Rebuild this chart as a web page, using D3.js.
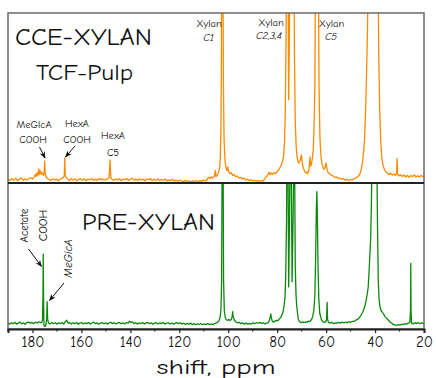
<!DOCTYPE html>
<html><head><meta charset="utf-8">
<script src="https://cdn.jsdelivr.net/npm/d3@7"></script>
<style>
html,body{margin:0;padding:0;background:#fff;}
svg{display:block;}
text{font-family:'Comic Sans MS','Comic Neue','Open Sans',sans-serif;fill:#111;}
</style></head>
<body><svg id="chart" width="436" height="378"></svg>
<script>
// ---- data ----
const majorTicks = [180,160,140,120,100,80,60,40,20];
const minorTicks = [190,170,150,130,110,90,70,50,30];
const xTitle = "shift, ppm";
const topTitle = ["CCE-XYLAN","TCF-Pulp"];
const bottomTitle = "PRE-XYLAN";

// CCE-XYLAN, TCF-Pulp spectrum: [ppm, intensity]
const topSpectrum = [[190.0,0.4],[189.2,-0.5],[188.5,0.6],[187.7,-0.3],[186.9,0.9],[186.1,-0.6],[185.4,0.3],[184.6,1.0],[183.8,-0.4],[183.0,0.5],[182.3,-0.3],[181.5,0.7],[180.7,1.1],[180.0,0.4],[179.3,1.5],[178.8,3.2],[178.5,1.8],[178.1,4.2],[177.8,2.4],[177.4,6.5],[177.1,3.0],[176.7,5.2],[176.3,3.2],[175.9,4.0],[175.5,2.6],[175.2,4.8],[175.0,11.2],[174.8,4.0],[174.4,1.6],[173.9,0.7],[173.2,0.1],[172.5,-0.6],[171.8,0.5],[171.0,-0.2],[170.3,0.4],[169.5,-0.6],[168.8,0.3],[168.1,0.6],[167.4,1.2],[167.0,2.2],[166.8,13.0],[166.6,2.8],[166.2,1.2],[165.6,0.3],[164.9,-0.5],[164.1,0.6],[163.4,-0.2],[162.6,0.4],[161.9,-0.7],[161.1,0.2],[160.4,0.7],[159.6,-0.3],[158.9,0.5],[158.1,-0.6],[157.4,0.3],[156.6,-0.1],[155.9,0.7],[155.1,-0.4],[154.4,0.2],[153.6,-0.4],[152.9,0.6],[152.1,0.0],[151.4,0.5],[150.6,-0.3],[149.9,0.4],[149.2,0.3],[148.7,1.3],[148.3,11.8],[148.0,1.4],[147.5,0.2],[146.8,-0.5],[146.0,0.4],[145.3,-0.2],[144.5,0.6],[143.8,-0.6],[143.0,0.3],[142.3,-0.1],[141.5,0.7],[140.8,-0.4],[140.0,0.2],[139.3,0.9],[138.5,-0.3],[137.8,0.4],[137.0,-0.5],[136.3,0.5],[135.5,-0.2],[134.8,0.3],[134.0,-0.7],[133.3,0.4],[132.5,0.0],[131.8,0.6],[131.0,-0.5],[130.3,0.2],[129.5,-0.3],[128.8,0.5],[128.0,-0.6],[127.3,0.1],[126.5,-0.4],[125.8,0.4],[125.0,-0.8],[124.3,-0.1],[123.5,-0.6],[122.8,0.2],[122.0,-0.9],[121.3,-0.3],[120.5,-1.0],[119.8,-0.2],[119.0,-0.8],[118.3,-1.3],[117.5,-0.4],[116.8,-1.1],[116.0,-0.6],[115.3,-1.4],[114.5,-0.7],[113.8,-1.2],[113.0,-0.5],[112.3,-1.3],[111.5,-0.6],[110.8,-1.0],[110.0,-0.3],[109.3,-0.8],[108.6,0.2],[108.0,1.5],[107.5,0.6],[107.0,1.8],[106.5,0.9],[106.0,1.6],[105.6,2.2],[105.3,5.6],[105.0,1.8],[104.5,2.6],[104.0,4.2],[103.6,6.5],[103.3,12],[103.0,28],[102.8,65],[102.65,140],[102.2,140],[102.0,62],[101.7,24],[101.3,11],[100.9,7.0],[100.5,5.5],[100.2,7.6],[99.8,4.8],[99.3,3.6],[98.8,4.2],[98.2,2.6],[97.6,3.0],[97.0,1.8],[96.3,2.2],[95.6,1.0],[94.9,1.4],[94.2,0.4],[93.5,0.9],[92.8,-0.2],[92.1,0.3],[91.4,-0.6],[90.7,0.0],[90.0,-0.8],[89.3,-0.3],[88.6,-1.0],[87.9,-0.4],[87.2,-1.1],[86.5,-0.6],[85.8,-0.9],[85.2,0.3],[84.6,1.6],[84.0,2.4],[83.4,4.4],[82.9,3.0],[82.4,4.0],[81.8,3.2],[81.2,4.2],[80.6,3.6],[80.0,5.0],[79.4,5.6],[78.9,7.2],[78.3,9.0],[77.8,11.0],[77.4,14],[77.0,22],[76.7,40],[76.4,80],[76.1,140],[75.6,140],[75.3,48],[75.0,90],[74.75,140],[73.2,140],[72.9,70],[72.6,34],[72.2,19],[71.8,13],[71.3,10],[70.7,11],[70.1,14.8],[69.7,9.5],[69.3,7.0],[68.8,5.2],[68.4,4.0],[68.0,4.6],[67.5,3.6],[67.0,6.0],[66.6,13.6],[66.3,8.0],[66.0,9.5],[65.7,12],[65.3,17],[65.0,28],[64.6,55],[64.3,140],[63.2,140],[62.9,55],[62.5,24],[62.1,14],[61.6,9],[61.0,6.2],[60.5,7.0],[60.0,10.0],[59.6,6.0],[59.1,4.0],[58.5,3.6],[57.8,2.6],[57.1,2.2],[56.4,1.3],[55.7,1.7],[55.0,0.6],[54.3,1.0],[53.6,0.2],[52.9,0.7],[52.2,-0.3],[51.5,0.3],[50.8,-0.5],[50.1,0.2],[49.4,-0.2],[48.7,0.5],[48.0,0.9],[47.4,1.4],[46.8,2.2],[46.2,3.4],[45.7,5.5],[45.2,9.5],[44.8,15],[44.3,24],[43.9,40],[43.5,62],[43.1,90],[42.7,140],[38.9,140],[38.5,75],[38.1,42],[37.7,24],[37.3,14],[36.8,9.0],[36.2,6.2],[35.6,4.6],[35.0,4.0],[34.3,3.2],[33.6,3.8],[32.9,2.8],[32.2,3.4],[31.6,2.6],[31.2,3.5],[31.0,12.8],[30.8,3.6],[30.3,2.2],[29.6,3.0],[28.9,1.9],[28.2,2.8],[27.5,1.6],[26.8,2.6],[26.1,1.4],[25.4,2.5],[24.7,1.8],[24.0,2.9],[23.3,1.6],[22.6,2.4],[21.9,1.5],[21.2,2.6],[20.5,1.7],[20.0,2.2]];

// PRE-XYLAN spectrum: [ppm, intensity]
const bottomSpectrum = [[190.0,0.3],[189.3,-0.6],[188.6,0.5],[187.9,-0.3],[187.2,0.8],[186.5,-0.5],[185.8,0.2],[185.1,0.9],[184.4,-0.4],[183.7,0.4],[183.0,-0.6],[182.3,0.6],[181.6,1.0],[180.9,0.1],[180.2,0.7],[179.5,-0.2],[178.8,0.9],[178.1,0.3],[177.4,1.2],[176.8,0.6],[176.2,0.8],[175.9,2.5],[175.7,20],[175.6,49.4],[175.45,15],[175.3,-1.5],[175.0,-2.2],[174.6,-1.8],[174.2,2.5],[174.0,15.5],[173.8,3.0],[173.4,0.3],[172.8,-0.4],[172.1,0.6],[171.4,-0.3],[170.7,0.5],[170.0,-0.5],[169.3,0.3],[168.6,-0.2],[167.9,0.7],[167.2,-0.4],[166.5,1.4],[166.0,2.2],[165.5,0.2],[164.8,0.6],[164.1,-0.5],[163.4,0.4],[162.7,-0.3],[162.0,0.6],[161.3,-0.6],[160.6,0.2],[159.9,0.5],[159.2,-0.4],[158.5,0.3],[157.8,-0.2],[157.1,0.6],[156.4,-0.5],[155.7,0.3],[155.0,0.9],[154.3,-0.2],[153.6,0.4],[152.9,-0.6],[152.2,0.2],[151.5,0.6],[150.8,-0.3],[150.1,0.4],[149.4,-0.5],[148.7,0.3],[148.0,0.8],[147.3,-0.2],[146.6,0.5],[145.9,-0.4],[145.2,0.2],[144.5,0.7],[143.8,-0.3],[143.1,0.4],[142.4,-0.4],[141.7,0.5],[141.0,0.1],[140.3,1.6],[139.8,0.6],[139.2,1.1],[138.5,-0.2],[137.8,0.5],[137.1,-0.5],[136.4,0.3],[135.7,-0.1],[135.0,0.6],[134.3,-0.4],[133.6,0.2],[132.9,0.7],[132.2,-0.3],[131.5,0.4],[130.8,-0.6],[130.1,0.2],[129.4,0.5],[128.7,-0.4],[128.0,0.3],[127.3,-0.2],[126.6,0.6],[125.9,-0.5],[125.2,0.1],[124.5,0.5],[123.8,-0.4],[123.1,0.3],[122.4,-0.6],[121.7,0.2],[121.0,0.6],[120.3,-0.3],[119.6,0.4],[118.9,-0.5],[118.2,0.1],[117.5,-0.8],[116.8,0.0],[116.1,-0.6],[115.4,0.2],[114.7,-0.9],[114.0,-0.2],[113.3,-1.0],[112.6,-0.3],[111.9,-0.8],[111.2,-0.1],[110.5,-1.0],[109.8,-0.4],[109.1,-0.9],[108.4,-0.2],[107.7,-0.8],[107.0,-0.3],[106.3,-0.9],[105.6,-0.2],[104.9,0.3],[104.3,0.9],[103.8,1.8],[103.4,3.5],[103.0,9],[102.7,30],[102.5,120],[102.1,120],[101.9,30],[101.6,9],[101.2,4.0],[100.8,2.6],[100.3,2.2],[99.8,2.8],[99.3,2.0],[98.7,3.0],[98.4,5.0],[98.2,8.3],[97.9,4.2],[97.4,2.0],[96.8,1.0],[96.2,0.4],[95.5,0.8],[94.8,-0.2],[94.1,0.3],[93.4,-0.5],[92.7,0.2],[92.0,-0.6],[91.3,-0.2],[90.6,-0.5],[89.9,0.4],[89.2,-0.3],[88.5,0.5],[87.8,0.1],[87.1,0.7],[86.4,0.0],[85.7,0.4],[85.0,-0.4],[84.3,0.2],[83.7,0.5],[83.2,2.0],[82.8,5.0],[82.6,6.7],[82.4,4.0],[82.0,1.6],[81.5,0.8],[80.9,1.6],[80.3,2.2],[79.7,1.8],[79.2,3.2],[78.6,4.0],[78.1,6.0],[77.6,8.5],[77.2,12],[76.8,19],[76.5,35],[76.2,70],[76.0,120],[75.6,120],[75.3,26],[75.0,70],[74.7,120],[74.3,120],[73.9,29.7],[73.5,75],[73.2,120],[72.9,120],[72.6,40],[72.3,20],[72.0,12],[71.6,6],[71.3,2.4],[70.8,1.2],[70.2,0.5],[69.6,1.1],[69.0,0.6],[68.4,1.0],[67.8,0.8],[67.2,1.6],[66.6,1.2],[66.0,2.6],[65.5,4.8],[65.0,9.5],[64.6,20],[64.3,45],[64.0,80],[63.8,93.8],[63.6,80],[63.3,40],[63.0,18],[62.6,7.2],[62.0,3.0],[61.4,1.2],[60.8,0.6],[60.2,1.0],[59.8,3.0],[59.6,15.0],[59.4,2.6],[59.0,0.6],[58.4,0.2],[57.7,0.8],[57.0,-0.3],[56.3,0.4],[55.6,0.1],[54.9,0.8],[54.2,0.2],[53.5,0.9],[52.8,0.3],[52.1,1.0],[51.4,0.4],[50.7,1.2],[50.0,0.8],[49.3,1.5],[48.6,1.4],[47.9,2.3],[47.3,2.6],[46.7,3.6],[46.1,4.8],[45.5,6.5],[44.9,8.5],[44.2,12],[43.6,17],[43.1,22],[42.8,26],[42.4,38],[42.1,50],[41.8,60],[41.5,85],[41.2,120],[39.3,120],[39.0,70],[38.7,31],[38.4,18],[38.0,12],[37.5,9.0],[37.0,7.8],[36.6,7.0],[36.0,5.0],[35.3,3.6],[34.6,2.4],[33.9,1.0],[33.2,0.3],[32.6,-0.8],[31.9,-1.0],[31.2,-1.5],[30.5,-0.8],[29.8,-1.2],[29.1,-0.6],[28.4,-0.9],[27.7,-0.2],[27.0,-0.5],[26.4,0.3],[25.8,0.6],[25.5,10],[25.4,42.8],[25.3,10],[25.1,0.2],[24.5,-0.4],[23.8,0.5],[23.1,-0.2],[22.4,0.6],[21.7,-0.3],[21.0,0.4],[20.3,-0.2],[20.0,0.3]];

// ---- layout ----
const L = 8, R = 424, T = 13, M = 183, B = 329;
const svg = d3.select("#chart");
const x = d3.scaleLinear().domain([190,20]).range([L,R]);
const yTop = d3.scaleLinear().domain([-2,100]).range([M,T]);
const yBot = d3.scaleLinear().domain([-4,100]).range([B,M]);

const defs = svg.append("defs");
defs.append("clipPath").attr("id","clipTop").append("rect")
  .attr("x",L).attr("y",T).attr("width",R-L).attr("height",M-T);
defs.append("clipPath").attr("id","clipBot").append("rect")
  .attr("x",L).attr("y",M).attr("width",R-L).attr("height",B-M);
defs.append("marker").attr("id","arr").attr("viewBox","0 0 10 10")
  .attr("refX",9).attr("refY",5).attr("markerWidth",7).attr("markerHeight",7)
  .attr("markerUnits","userSpaceOnUse").attr("orient","auto")
  .append("path").attr("d","M0,1 L10,5 L0,9 L3,5 Z").attr("fill","#111");

const lineTop = d3.line().x(d=>x(d[0])).y(d=>yTop(d[1]));
const lineBot = d3.line().x(d=>x(d[0])).y(d=>yBot(d[1]));

svg.append("path").datum(topSpectrum).attr("clip-path","url(#clipTop)")
  .attr("d",lineTop).attr("fill","none").attr("stroke","#ff8a00")
  .attr("stroke-width",1.3).attr("stroke-linejoin","round");
svg.append("path").datum(bottomSpectrum).attr("clip-path","url(#clipBot)")
  .attr("d",lineBot).attr("fill","none").attr("stroke","#0a8a0a")
  .attr("stroke-width",1.3).attr("stroke-linejoin","round");

// frame
svg.append("rect").attr("x",L).attr("y",T).attr("width",R-L).attr("height",B-T)
  .attr("fill","none").attr("stroke","#6a6a6a").attr("stroke-width",1.5);
svg.append("line").attr("x1",L).attr("x2",R).attr("y1",M).attr("y2",M)
  .attr("stroke","#222").attr("stroke-width",2);

// axis
const axisG = svg.append("g").attr("transform",`translate(0,${B})`);
axisG.call(d3.axisBottom(x).tickValues(majorTicks).tickSize(4).tickFormat(d3.format("d")));
axisG.select(".domain").attr("stroke","#222").attr("stroke-width",2);
axisG.selectAll(".tick line").attr("stroke","#222").attr("stroke-width",1.2);
axisG.selectAll(".tick text").attr("font-size",15).attr("y",7)
  .attr("font-family","'Comic Sans MS','Comic Neue','Open Sans',sans-serif").attr("fill","#111");
axisG.selectAll(".minor").data(minorTicks).enter().append("line")
  .attr("x1",d=>x(d)).attr("x2",d=>x(d)).attr("y1",0).attr("y2",2.5)
  .attr("stroke","#222").attr("stroke-width",1.2);

svg.append("text").attr("x",(L+R)/2).attr("y",374).attr("text-anchor","middle")
  .attr("font-size",21).attr("textLength",119).attr("lengthAdjust","spacingAndGlyphs").text(xTitle);

// titles
svg.append("text").attr("x",15).attr("y",45).attr("font-size",25)
  .attr("textLength",137).attr("lengthAdjust","spacingAndGlyphs").text(topTitle[0]);
svg.append("text").attr("x",36).attr("y",80).attr("font-size",23)
  .attr("textLength",97).attr("lengthAdjust","spacingAndGlyphs").text(topTitle[1]);
svg.append("text").attr("x",82).attr("y",230).attr("font-size",25)
  .attr("textLength",133).attr("lengthAdjust","spacingAndGlyphs").text(bottomTitle);

// small annotations (top)
function lab(tx,ty,s,opt={}){
  const t = svg.append("text").attr("x",tx).attr("y",ty).attr("text-anchor","middle")
    .attr("font-size",opt.size||10.5).text(s);
  if(opt.italic) t.attr("font-style","italic");
  return t;
}
lab(34,128,"MeGlcA"); lab(33,143,"COOH");
lab(77,127,"HexA"); lab(77,143,"COOH");
lab(113,139,"HexA"); lab(113,156,"C5");
lab(209,27,"Xylan"); lab(208.5,41,"C1",{italic:true});
lab(271,26,"Xylan"); lab(269,39,"C2,3,4",{italic:true});
lab(331.5,27,"Xylan"); lab(331,40,"C5",{italic:true});

function arrow(x1,y1,x2,y2){
  svg.append("line").attr("x1",x1).attr("y1",y1).attr("x2",x2).attr("y2",y2)
    .attr("stroke","#111").attr("stroke-width",1).attr("marker-end","url(#arr)");
}
arrow(39.5,147,45,158);
arrow(75,146,65.5,157);

// rotated annotations (bottom)
function rlab(bx,cy,s,size,italic){
  const t = svg.append("text").attr("transform",`translate(${bx},${cy}) rotate(-90)`)
    .attr("text-anchor","middle").attr("font-size",size).text(s);
  if(italic) t.attr("font-style","italic");
}
rlab(28,225.5,"Acetate",11);
rlab(46.5,225.5,"COOH",12);
rlab(71.5,258.5,"MeGlcA",11.5,true);
arrow(28.5,249,41.5,266.5);
arrow(64,283,49.5,300.5);
</script></body></html>
